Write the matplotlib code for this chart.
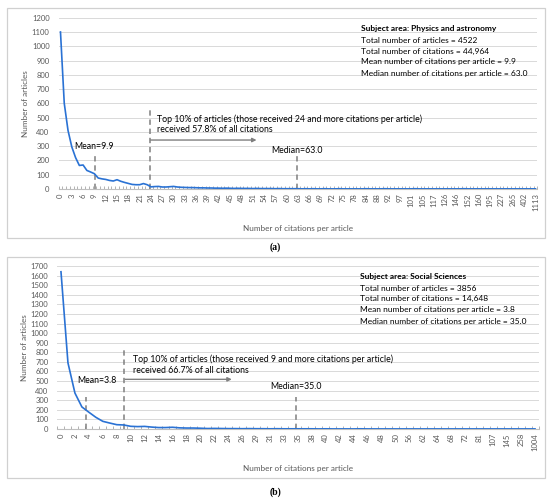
import matplotlib
matplotlib.use("Agg")
import matplotlib.pyplot as plt
from matplotlib.patches import Rectangle
import numpy as np

plt.rcParams["font.family"] = ["Lato", "DejaVu Sans"]

W, H = 550, 498

# ---- panel (a): Physics and astronomy ----
counts_a = [
    1100, 600, 410, 295, 220, 165, 168, 130, 119, 107,
    77, 71, 67, 60, 56, 65, 54, 46, 39, 32,
    30, 30, 38, 30, 15, 17, 18, 14, 14, 16,
    18, 14, 12, 11, 10, 10, 9, 8, 8, 7,
    7, 6, 6, 5, 6, 5, 4, 5, 4, 4,
    4, 3, 4, 3, 3, 3, 3, 2, 3, 2,
    2, 2, 2, 2, 1, 2, 1, 2, 1, 1,
    2, 1, 1, 1, 2, 1, 1, 1, 1, 1,
    1, 2, 1, 1, 1, 1, 2, 1, 1, 1,
    1, 1, 1, 1, 2, 1, 1, 1, 1, 1,
    1, 1, 1, 1, 1, 1, 1, 2, 1, 1,
    1, 1, 1, 1, 1, 1, 1, 1, 1, 1,
    1, 1, 1, 1, 1, 1, 1,
]
ticklabels_a = [str(v) for v in range(0, 79, 3)] + [
    "84", "88", "92", "97", "101", "105", "117", "126", "146", "152",
    "160", "195", "227", "265", "402", "1113",
]
info_a = [
    "Subject area: Physics and astronomy",
    "Total number of articles = 4522",
    "Total number of citations = 44,964",
    "Mean number of citations per article = 9.9",
    "Median number of citations per article = 63.0",
]
top_text_a = ["Top 10% of articles (those received 24 and more citations per article)",
              "received 57.8% of all citations"]
mean_label_a, median_label_a = "Mean=9.9", "Median=63.0"

# ---- panel (b): Social Sciences ----
counts_b = [
    1640, 690, 375, 230, 175, 122, 80, 62, 45, 42,
    28, 25, 27, 20, 15, 15, 18, 12, 10, 10,
    8, 5, 6, 5, 4, 4, 3, 4, 3, 3,
    2, 3, 2, 2, 2, 2, 2, 1, 2, 1,
    1, 1, 1, 2, 1, 1, 1, 1, 1, 1,
    1, 1, 1, 1, 1, 1, 1, 1, 1, 1,
    1, 1, 1, 1, 1, 1, 1, 1, 1,
]
ticklabels_b = [str(v) for v in range(0, 27, 2)] + [
    "29", "31", "33", "35", "38", "40", "42", "44", "46", "48", "50",
    "56", "62", "64", "68", "72", "81", "107", "145", "258", "1004",
]
info_b = [
    "Subject area: Social Sciences",
    "Total number of articles = 3856",
    "Total number of citations = 14,648",
    "Mean number of citations per article = 3.8",
    "Median number of citations per article = 35.0",
]
top_text_b = ["Top 10% of articles (those received 9 and more citations per article)",
              "received 66.7% of all citations"]
mean_label_b, median_label_b = "Mean=3.8", "Median=35.0"

BLUE = "#2A72D4"
GREY = "#7f7f7f"
TXT = "#595959"
FS = 5.5


def px_axes(fig, left, right, top, bottom):
    return fig.add_axes([left / W, 1 - bottom / H, (right - left) / W, (bottom - top) / H])


def draw_panel(ax, counts, ticklabels, step, ymax, cfg):
    n = len(counts)
    x = np.arange(n)
    ax.plot(x, counts, color=BLUE, lw=1.2, zorder=3)
    ax.set_xlim(-0.5, n - 0.5)
    ax.set_ylim(0, ymax)
    ax.set_yticks(np.arange(0, ymax + 1, 100))
    ax.yaxis.grid(True, color="#d9d9d9", lw=0.7)
    ax.set_axisbelow(True)
    for s in ["top", "right", "left"]:
        ax.spines[s].set_visible(False)
    ax.spines["bottom"].set_color("#bfbfbf")
    ax.spines["bottom"].set_linewidth(0.8)
    ax.set_xticks(np.arange(0, n, step))
    ax.set_xticklabels(ticklabels, rotation=90, fontsize=FS, color=TXT)
    ax.set_xticks(np.arange(-0.5, n, 1), minor=True)
    ax.tick_params(axis="x", which="major", length=0, pad=3)
    ax.tick_params(axis="x", which="minor", direction="in", length=2.2, width=0.6, color="#a6a6a6")
    ax.tick_params(axis="y", length=0, pad=6.5, labelsize=FS, labelcolor=TXT)
    ax.set_ylabel("Number of articles", fontsize=FS + 0.4, color=TXT, labelpad=2)
    ax.set_xlabel("Number of citations per article", fontsize=FS + 0.4, color=TXT, labelpad=10)

    dash = (0, (3.5, 2.5))
    ax.vlines(cfg["mean_x"], 0, cfg["mean_top"], colors=GREY, linestyles=dash, lw=1.1)
    ax.vlines(cfg["top_x"], 0, cfg["top_top"], colors=GREY, linestyles=dash, lw=1.1)
    ax.vlines(cfg["med_x"], 0, cfg["med_top"], colors=GREY, linestyles=dash, lw=1.1)
    ax.annotate("", xy=(cfg["arrow_end"], cfg["arrow_y"]), xytext=(cfg["top_x"] + 0.2, cfg["arrow_y"]),
                arrowprops=dict(arrowstyle="-|>", color=GREY, lw=1.0, mutation_scale=6, shrinkA=0, shrinkB=0))
    ax.text(cfg["mean_tx"], cfg["mean_ty"], cfg["mean_label"], fontsize=FS + 0.8, ha="center", va="center")
    ax.text(cfg["med_x"], cfg["med_ty"], cfg["med_label"], fontsize=FS + 0.8, ha="center", va="center")
    for line, y in zip(cfg["top_text"], cfg["top_ty"]):
        ax.text(cfg["top_tx"], y, line, fontsize=FS + 0.8, ha="left", va="center")
    for i, (line, y) in enumerate(zip(cfg["info"], cfg["info_y"])):
        ax.text(cfg["info_x"], y, line, fontsize=FS + 0.5, ha="left", va="center",
                fontweight="bold" if i == 0 else "normal")


fig = plt.figure(figsize=(W / 100, H / 100), dpi=100)

for (l, t, r, b) in [(6.7, 8, 545, 238), (6.7, 257, 545, 478)]:
    fig.patches.append(Rectangle((l / W, 1 - b / H), (r - l) / W, (b - t) / H,
                                 transform=fig.transFigure, fill=False,
                                 edgecolor="#d0d0d0", lw=0.9))

ax_a = px_axes(fig, 58.6, 537.4, 17.7, 189)
draw_panel(ax_a, counts_a, ticklabels_a, 3, 1200, dict(
    mean_x=9.1, mean_top=240, top_x=23.7, top_top=565, med_x=62.7, med_top=230,
    arrow_y=343, arrow_end=52, mean_tx=9.0, mean_ty=296, mean_label=mean_label_a,
    med_ty=268, med_label=median_label_a, top_text=top_text_a, top_tx=25.5, top_ty=[488, 418],
    info=info_a, info_x=79.6, info_y=[1125, 1043, 966, 892, 812],
))

ax_b = px_axes(fig, 57.5, 538.5, 266, 429)
draw_panel(ax_b, counts_b, ticklabels_b, 2, 1700, dict(
    mean_x=3.6, mean_top=337, top_x=9.0, top_top=831, med_x=33.7, med_top=337,
    arrow_y=518, arrow_end=24.5, mean_tx=5.1, mean_ty=511, mean_label=mean_label_b,
    med_ty=441, med_label=median_label_b, top_text=top_text_b, top_tx=10.4, top_ty=[727, 605],
    info=info_b, info_x=42.9, info_y=[1589, 1467, 1360, 1250, 1119],
))

fig.text(275 / W, 1 - 247 / H, "(a)", fontsize=7, fontweight="bold", family="Liberation Serif",
         ha="center", va="center")
fig.text(275 / W, 1 - 492 / H, "(b)", fontsize=7, fontweight="bold", family="Liberation Serif",
         ha="center", va="center")

fig.savefig("out.png", dpi=100)
